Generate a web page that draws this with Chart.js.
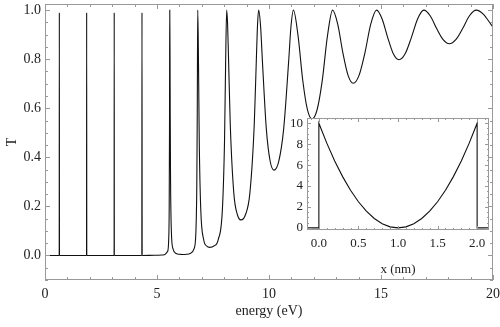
<!DOCTYPE html>
<html>
<head>
<meta charset="utf-8">
<script src="https://cdn.jsdelivr.net/npm/chart.js@4.4.0/dist/chart.umd.min.js"></script>
<style>
  body { margin: 0; background: #fff; }
  #wrap { position: relative; width: 500px; height: 327px; }
  #mainChart { position: absolute; left: 0; top: 0; }
  #insetChart { position: absolute; left: 262px; top: 108px; }
</style>
</head>
<body>
<div id="wrap">
  <canvas id="mainChart" width="500" height="327"></canvas>
  <canvas id="insetChart" width="232" height="172"></canvas>
</div>
<script>
// transmission T vs energy (eV)
const energy = [
  0, 0.635, 0.64, 0.645, 1.855, 1.86, 1.865, 3.085, 3.09, 3.095,
  4.322, 4.33, 4.338, 4.9, 5.27, 5.47, 5.52, 5.545, 5.558, 5.564,
  5.57, 5.582, 5.59, 5.606, 5.643, 5.715, 5.86, 6.005, 6.15, 6.318,
  6.485, 6.653, 6.736, 6.778, 6.797, 6.807, 6.82, 6.853, 6.886, 6.953,
  7.085, 7.218, 7.35, 7.54, 7.73, 7.92, 8.015, 8.063, 8.11, 8.15,
  8.19, 8.27, 8.43, 8.59, 8.75, 8.948, 9.145, 9.343, 9.441, 9.491,
  9.54, 9.625, 9.71, 9.88, 10.05, 10.22, 10.438, 10.655, 10.873, 10.981,
  11.09, 11.298, 11.505, 11.713, 11.92, 12.15, 12.38, 12.61, 12.84, 13.07,
  13.3, 13.53, 13.76, 14.02, 14.28, 14.54, 14.8, 15.05, 15.3, 15.55,
  15.8, 16.078, 16.355, 16.633, 16.91, 17.195, 17.48, 17.765, 18.05, 18.35,
  18.65, 18.95, 19.25, 19.575, 19.9, 20
];
const transmission = [
  0, 0, 0.99, 0, 0, 0.99, 0, 0, 0.99, 0,
  0, 0.99, 0, 0.001, 0.002, 0.016, 0.06, 0.2, 0.5, 0.8,
  1.0, 0.8, 0.57, 0.295, 0.095, 0.027, 0.008, 0.0047, 0.004, 0.0047,
  0.008, 0.027, 0.095, 0.295, 0.57, 0.8, 1.0, 0.78, 0.47, 0.189,
  0.064, 0.0385, 0.033, 0.0385, 0.064, 0.189, 0.47, 0.78, 1.0, 0.946,
  0.816, 0.537, 0.253, 0.166, 0.145, 0.166, 0.253, 0.537, 0.816, 0.946,
  1.0, 0.933, 0.785, 0.516, 0.385, 0.348, 0.385, 0.516, 0.785, 0.933,
  1.0, 0.895, 0.715, 0.595, 0.556, 0.595, 0.715, 0.895, 1.0, 0.942,
  0.825, 0.734, 0.702, 0.734, 0.825, 0.942, 1.0, 0.964, 0.888, 0.822,
  0.798, 0.822, 0.888, 0.964, 1.0, 0.977, 0.926, 0.881, 0.863, 0.881,
  0.926, 0.977, 1.0, 0.983, 0.943, 0.93
];
const energyTicks = [0, 5, 10, 15, 20];
const tTicks = [0, 0.2, 0.4, 0.6, 0.8, 1.0];

// inset: potential (eV) vs position x (nm)
const insetX = [
  -0.15, 0, 0, 0.1, 0.2, 0.3, 0.4, 0.5, 0.6, 0.7, 0.8, 0.9, 1.0,
  1.1, 1.2, 1.3, 1.4, 1.5, 1.6, 1.7, 1.8, 1.9, 2.0, 2.0, 2.15
];
const insetV = [
  0, 0, 10, 8.1, 6.4, 4.9, 3.6, 2.5, 1.6, 0.9, 0.4, 0.1, 0,
  0.1, 0.4, 0.9, 1.6, 2.5, 3.6, 4.9, 6.4, 8.1, 10, 0, 0
];
const insetXTicks = [0, 0.5, 1.0, 1.5, 2.0];
const insetVTicks = [0, 2, 4, 6, 8, 10];

const serif = "'Liberation Serif', 'DejaVu Serif', serif";
const textColor = "#222";
const frameColor = "#999";

// Mathematica-style frame with ticks pointing inward on all four sides
const frameTicks = {
  id: "frameTicks",
  beforeDraw(chart, args, opts) {
    if (!opts.fill) return;
    const a = chart.chartArea;
    chart.ctx.save();
    chart.ctx.fillStyle = opts.fill;
    chart.ctx.fillRect(a.left, a.top, a.right - a.left, a.bottom - a.top);
    chart.ctx.restore();
  },
  afterDatasetsDraw(chart, args, opts) {
    const { ctx, chartArea: a } = chart;
    const sx = chart.scales.x;
    const sy = chart.scales.y;
    ctx.save();
    ctx.strokeStyle = frameColor;
    ctx.lineWidth = 1;
    ctx.beginPath();
    const majX = sx.ticks.map((t) => t.value);
    for (let i = Math.ceil(sx.min / opts.xMinor - 1e-9); i * opts.xMinor <= sx.max + 1e-9; i++) {
      const v = i * opts.xMinor;
      const len = majX.some((m) => Math.abs(m - v) < 1e-6) ? opts.major : opts.minor;
      const px = Math.round(sx.getPixelForValue(v)) + 0.5;
      ctx.moveTo(px, a.bottom);
      ctx.lineTo(px, a.bottom - len);
      ctx.moveTo(px, a.top);
      ctx.lineTo(px, a.top + len);
    }
    const majY = sy.ticks.map((t) => t.value);
    for (let i = Math.ceil(sy.min / opts.yMinor - 1e-9); i * opts.yMinor <= sy.max + 1e-9; i++) {
      const v = i * opts.yMinor;
      const len = majY.some((m) => Math.abs(m - v) < 1e-6) ? opts.major : opts.minor;
      const py = Math.round(sy.getPixelForValue(v)) + 0.5;
      ctx.moveTo(a.left, py);
      ctx.lineTo(a.left + len, py);
      ctx.moveTo(a.right, py);
      ctx.lineTo(a.right - len, py);
    }
    ctx.stroke();
    ctx.strokeRect(
      Math.round(a.left) + 0.5,
      Math.round(a.top) + 0.5,
      Math.round(a.right - a.left) - 1,
      Math.round(a.bottom - a.top) - 1
    );
    ctx.restore();
  },
};

function fixedTicks(values) {
  return function (scale) {
    scale.ticks = values.map((v) => ({ value: v }));
  };
}

const mainChart = new Chart(document.getElementById("mainChart"), {
  type: "line",
  data: {
    datasets: [
      {
        data: energy.map((e, i) => ({ x: e, y: transmission[i] })),
        borderColor: "#111",
        borderWidth: 1.1,
        pointRadius: 0,
        cubicInterpolationMode: "monotone",
        fill: false,
      },
    ],
  },
  options: {
    responsive: false,
    animation: false,
    layout: { padding: { top: 4, right: 7, left: 0, bottom: 0 } },
    plugins: {
      legend: { display: false },
      tooltip: { enabled: false },
      frameTicks: { xMinor: 1, yMinor: 0.05, major: 5, minor: 3 },
    },
    scales: {
      x: {
        type: "linear",
        min: 0,
        max: 20,
        afterBuildTicks: fixedTicks(energyTicks),
        afterFit(s) {
          s.height = 47;
          s.paddingLeft = 0;
          s.paddingRight = 0;
        },
        grid: { display: false, drawTicks: false },
        border: { display: false },
        ticks: {
          color: textColor,
          font: { family: serif, size: 14 },
          padding: 6,
          maxRotation: 0,
          autoSkip: false,
        },
        title: {
          display: true,
          text: "energy (eV)",
          color: textColor,
          font: { family: serif, size: 14 },
          padding: { top: 0, bottom: 7 },
        },
      },
      y: {
        type: "linear",
        min: -0.1,
        max: 1.025,
        afterBuildTicks: fixedTicks(tTicks),
        afterFit(s) {
          s.width = 45;
          s.paddingTop = 0;
          s.paddingBottom = 0;
        },
        grid: { display: false, drawTicks: false },
        border: { display: false },
        ticks: {
          color: textColor,
          font: { family: serif, size: 14 },
          padding: 4,
          callback: (v) => v.toFixed(1),
        },
        title: {
          display: true,
          text: "T",
          color: textColor,
          font: { family: serif, size: 14 },
          padding: { top: 4, bottom: 0 },
        },
      },
    },
  },
  plugins: [frameTicks],
});

const insetChart = new Chart(document.getElementById("insetChart"), {
  type: "line",
  data: {
    datasets: [
      {
        data: insetX.map((x, i) => ({ x: x, y: insetV[i] })),
        borderColor: "#111",
        borderWidth: 1.1,
        pointRadius: 0,
        tension: 0,
        fill: false,
      },
    ],
  },
  options: {
    responsive: false,
    animation: false,
    layout: { padding: { top: 10, right: 5, left: 0, bottom: 0 } },
    plugins: {
      legend: { display: false },
      tooltip: { enabled: false },
      frameTicks: { xMinor: 0.1, yMinor: 0.5, major: 4, minor: 2, fill: "#fff" },
    },
    scales: {
      x: {
        type: "linear",
        min: -0.15,
        max: 2.15,
        afterBuildTicks: fixedTicks(insetXTicks),
        afterFit(s) {
          s.height = 50;
          s.paddingLeft = 0;
          s.paddingRight = 0;
        },
        grid: { display: false, drawTicks: false },
        border: { display: false },
        ticks: {
          color: textColor,
          font: { family: serif, size: 13 },
          padding: 6,
          maxRotation: 0,
          autoSkip: false,
          callback: (v) => v.toFixed(1),
        },
        title: {
          display: true,
          text: "x (nm)",
          color: textColor,
          font: { family: serif, size: 13 },
          padding: { top: 0, bottom: 3 },
        },
      },
      y: {
        type: "linear",
        min: -0.2,
        max: 10.5,
        afterBuildTicks: fixedTicks(insetVTicks),
        afterFit(s) {
          s.width = 45;
          s.paddingTop = 0;
          s.paddingBottom = 0;
        },
        grid: { display: false, drawTicks: false },
        border: { display: false },
        ticks: {
          color: textColor,
          font: { family: serif, size: 13 },
          padding: 4,
        },
      },
    },
  },
  plugins: [frameTicks],
});
</script>
</body>
</html>
